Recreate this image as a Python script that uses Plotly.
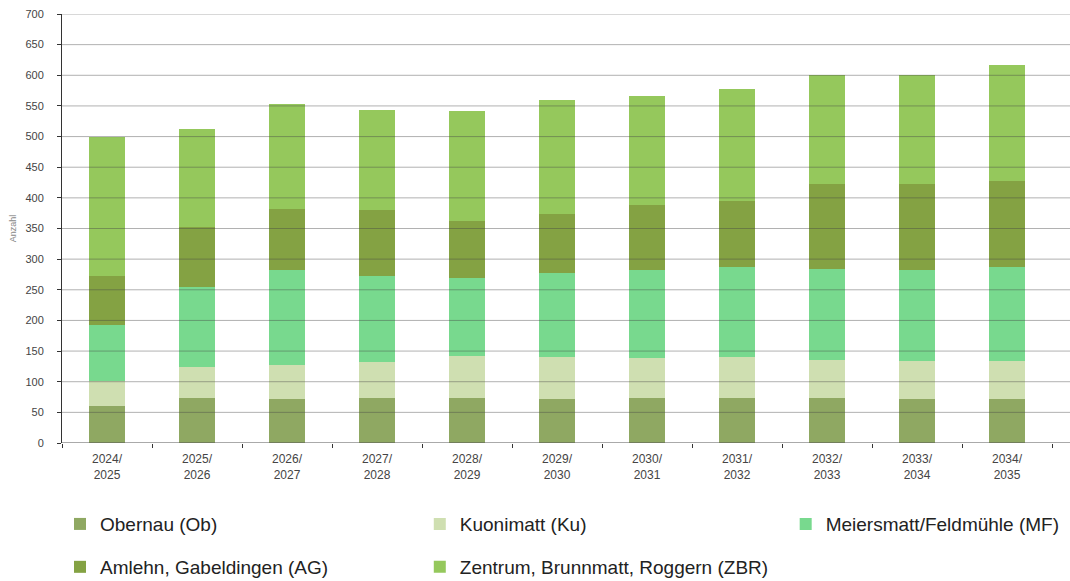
import plotly.graph_objects as go

categories = ["2024/<br>2025", "2025/<br>2026", "2026/<br>2027", "2027/<br>2028", "2028/<br>2029",
              "2029/<br>2030", "2030/<br>2031", "2031/<br>2032", "2032/<br>2033", "2033/<br>2034",
              "2034/<br>2035"]
ob = [60, 74, 71, 74, 74, 72, 74, 74, 74, 71, 72]
ku = [41, 50, 56, 58, 68, 69, 65, 67, 61, 62, 61]
mf = [92, 131, 156, 141, 127, 137, 144, 146, 149, 150, 154]
ag = [80, 98, 99, 108, 94, 96, 105, 108, 139, 139, 140]
zbr = [227, 160, 171, 162, 178, 185, 178, 182, 177, 178, 189]
y_ticks = list(range(0, 701, 50))

series = [
    ("Obernau (Ob)", ob, "#8fa862"),
    ("Kuonimatt (Ku)", ku, "#cfdfb1"),
    ("Meiersmatt/Feldmühle (MF)", mf, "#78d98e"),
    ("Amlehn, Gabeldingen (AG)", ag, "#84a243"),
    ("Zentrum, Brunnmatt, Roggern (ZBR)", zbr, "#95c85c"),
]
# legend placement (paper coords): three columns, two rows
leg_x = [-0.002, 0.3614, 0.7310, -0.002, 0.3614]
leg_y = [-0.189, -0.189, -0.189, -0.289, -0.289]
legend_ids = ["legend", "legend2", "legend3", "legend4", "legend5"]

fig = go.Figure()
for (name, vals, col), lg in zip(series, legend_ids):
    fig.add_trace(go.Bar(x=categories, y=vals, name=name, marker=dict(color=col, line=dict(width=0)),
                         legend=lg, showlegend=True))

shapes = []
for t in y_ticks:
    shapes.append(dict(type="line", xref="paper", yref="y", x0=0, x1=1.02, y0=t, y1=t,
                       line=dict(color="rgba(70,70,70,0.42)" if t > 0 else "#555555", width=1),
                       layer="above"))

font_family = "Liberation Sans, Arial, sans-serif"
legend_layout = {}
for lg, lx, ly in zip(legend_ids, leg_x, leg_y):
    legend_layout[lg] = dict(orientation="h", x=lx, xanchor="left", y=ly, yanchor="middle",
                             itemwidth=30, bgcolor="rgba(0,0,0,0)",
                             font=dict(size=19, color="#222222", family=font_family))

fig.update_layout(
    width=1070, height=581,
    margin=dict(l=62, r=17.5, t=14, b=138, autoexpand=False),
    paper_bgcolor="white", plot_bgcolor="white",
    barmode="stack", bargap=0.61,
    showlegend=True,
    font=dict(family=font_family, color="#444444"),
    shapes=shapes,
    **legend_layout,
)
fig.update_yaxes(range=[0, 700], tickvals=y_ticks, ticks="outside", ticklen=4, tickcolor="#333333",
                 showline=True, linecolor="#333333", linewidth=1, showgrid=False, zeroline=False,
                 tickfont=dict(size=11, color="#444444"), ticklabelstandoff=11,
                 title=dict(text="Anzahl", font=dict(size=9, color="#888888"), standoff=7))
fig.update_xaxes(type="category", tickson="boundaries", ticks="outside", ticklen=4, tickcolor="#333333",
                 showline=False, showgrid=False, tickfont=dict(size=12, color="#444444"),
                 ticklabelstandoff=7)

fig.write_html(
    "out.html",
    config={"displayModeBar": False},
    post_script="document.body.style.margin='0';document.documentElement.style.overflow='hidden';",
)
